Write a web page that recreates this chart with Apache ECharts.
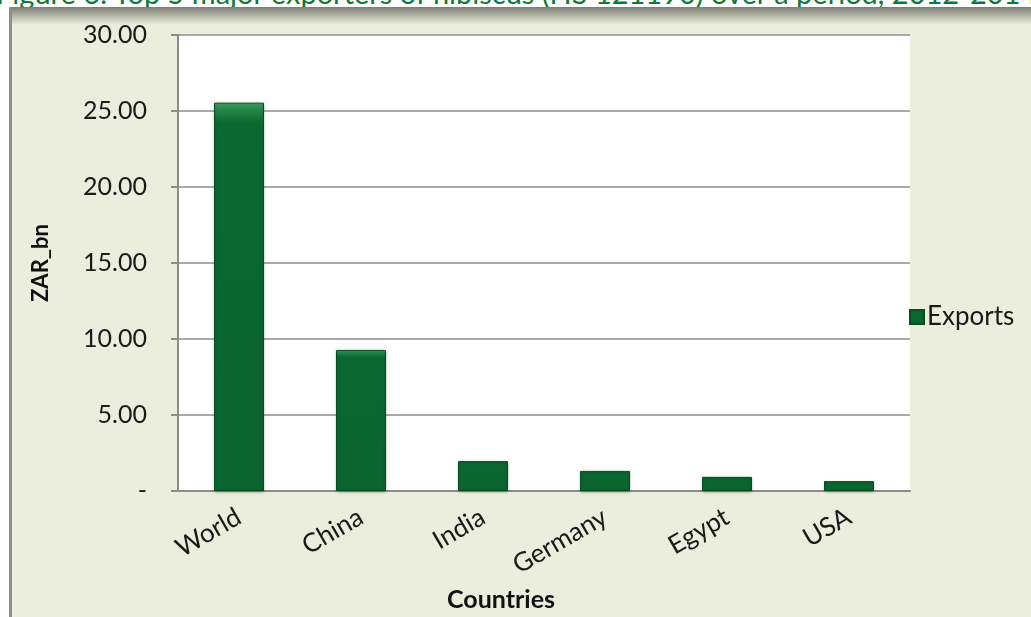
<!DOCTYPE html>
<html>
<head>
<meta charset="utf-8">
<script src="https://cdn.jsdelivr.net/npm/echarts@6/dist/echarts.min.js"></script>
<style>
html,body{margin:0;padding:0;background:#ffffff;overflow:hidden;}
#wrap{position:relative;width:1031px;height:617px;overflow:hidden;}
#titleBox{position:absolute;left:0;top:0;width:1031px;height:8px;overflow:hidden;z-index:0;}
#titleText{position:absolute;left:-4px;top:-25px;white-space:nowrap;font:29px Lato,"Open Sans",sans-serif;
  line-height:normal;color:#0b7a36;}
#frame{position:absolute;left:9px;top:7px;right:0;bottom:0;background:#ebeedd;
  border-left:3px solid #8e8f88;z-index:1;}
#frameTop{position:absolute;left:0;top:0;right:0;height:18px;
  background:linear-gradient(to bottom,#7b7d72 0%,#b6b8aa 50%,#ebeedd 100%);}
#chart{position:absolute;left:0;top:0;width:1031px;height:617px;z-index:2;}
</style>
</head>
<body>
<div id="wrap">
<div id="titleBox"><div id="titleText"></div></div>
<div id="frame"><div id="frameTop"></div></div>
<div id="chart"></div>
</div>
<script>
var titleText = 'Figure 6: Top 5 major exporters of hibiscus (HS 121190) over a period, 2012-2014';
var categories = ['World', 'China', 'India', 'Germany', 'Egypt', 'USA'];
var exportsValues = [25.55, 9.28, 1.97, 1.32, 0.93, 0.65];
var yTickLabels = {0: '-', 5: '5.00', 10: '10.00', 15: '15.00', 20: '20.00', 25: '25.00', 30: '30.00'};
var xAxisTitle = 'Countries';
var yAxisTitle = 'ZAR_bn';

document.getElementById('titleText').textContent = titleText;

var chart = echarts.init(document.getElementById('chart'), null, {renderer: 'canvas'});
var font = 'Lato, "Open Sans", sans-serif';
var barColor = new echarts.graphic.LinearGradient(0, 0, 0, 1, [
  {offset: 0, color: '#4aa76a'},
  {offset: 0.015, color: '#2a8a4d'},
  {offset: 0.05, color: '#0b6830'},
  {offset: 1, color: '#0a652e'}
]);
chart.setOption({
  backgroundColor: 'transparent',
  animation: false,
  textStyle: {fontFamily: font},
  graphic: [
    {type: 'text', z: 5, silent: true, x: 501, y: 600,
     style: {text: xAxisTitle, fill: '#111', font: 'bold 25px ' + font,
             align: 'center', verticalAlign: 'middle'}}
  ],
  grid: {left: 178, top: 35, width: 732, height: 456, containLabel: false, show: true,
         backgroundColor: '#ffffff', borderWidth: 0},
  legend: {
    left: 904, top: 299, orient: 'vertical',
    itemWidth: 14, itemHeight: 14, itemGap: 4,
    icon: 'rect',
    textStyle: {fontSize: 26, color: '#1a1a1a', fontFamily: font, padding: [0, 0, 0, -2]},
    data: ['Exports']
  },
  xAxis: {
    type: 'category',
    data: categories,
    axisLine: {show: true, lineStyle: {color: '#8c8c8c', width: 2}},
    axisTick: {show: false},
    axisLabel: {rotate: 30, margin: 24, fontSize: 26, color: '#1a1a1a', fontFamily: font, interval: 0}
  },
  yAxis: {
    type: 'value',
    min: 0, max: 30, interval: 5,
    name: yAxisTitle,
    nameLocation: 'middle',
    nameGap: 126,
    nameTextStyle: {fontSize: 22, fontWeight: 'bold', color: '#111', fontFamily: font},
    axisLine: {show: true, lineStyle: {color: '#8c8c8c', width: 2}},
    axisTick: {show: true, inside: false, length: 7, lineStyle: {color: '#8c8c8c', width: 2}},
    splitLine: {show: true, lineStyle: {color: '#8c8c8c', width: 1.5}},
    axisLabel: {margin: 31, fontSize: 25, color: '#1a1a1a', fontFamily: font,
      formatter: function (v) { return yTickLabels[v] !== undefined ? yTickLabels[v] : v.toFixed(2); }}
  },
  series: [{
    name: 'Exports',
    type: 'bar',
    data: exportsValues,
    barWidth: 50,
    itemStyle: {color: barColor, borderColor: '#064d22', borderWidth: 1,
      shadowColor: 'rgba(0,0,0,0.25)', shadowBlur: 3, shadowOffsetY: 1}
  }]
});
</script>
</body>
</html>
